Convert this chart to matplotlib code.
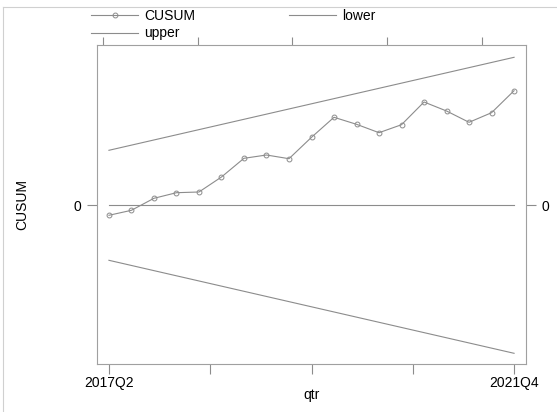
import matplotlib
matplotlib.use("Agg")
import matplotlib.pyplot as plt
from matplotlib.lines import Line2D

plt.rcParams['font.family'] = ['Liberation Sans', 'DejaVu Sans']

quarters = ['2017Q2', '2017Q3', '2017Q4', '2018Q1', '2018Q2', '2018Q3', '2018Q4',
            '2019Q1', '2019Q2', '2019Q3', '2019Q4', '2020Q1', '2020Q2', '2020Q3',
            '2020Q4', '2021Q1', '2021Q2', '2021Q3', '2021Q4']
cusum = [-1.0, -0.5, 0.7, 1.26, 1.33, 2.83, 4.7, 5.03, 4.66, 6.8,
         8.8, 8.1, 7.26, 8.06, 10.33, 9.43, 8.3, 9.26, 11.46]
upper_ends = [5.5, 14.8]
lower_ends = [-5.5, -14.8]

GREY = '#8c8c8c'

x = list(range(len(quarters)))
ends = [x[0], x[-1]]

fig = plt.figure(figsize=(5.57, 4.12), dpi=100)
ax = fig.add_axes([97 / 557, 1 - 364 / 412, 429 / 557, 319 / 412])

l1, = ax.plot(x, cusum, color=GREY, lw=0.8, marker='o', ms=3.5,
              mfc='none', mec=GREY, mew=0.7, label='CUSUM')
l2, = ax.plot(ends, lower_ends, color=GREY, lw=0.8, label='lower')
l3, = ax.plot(ends, upper_ends, color=GREY, lw=0.8, label='upper')
ax.plot(ends, [0, 0], color=GREY, lw=0.8)

ax.set_xlim(-0.53, 18.53)
ax.set_ylim(-15.87, 16.03)

ax.set_xticks([0, 4.5, 9, 13.5, 18])
ax.set_xticklabels([quarters[0], '', '', '', quarters[-1]])
ax.set_yticks([0])
ax.set_yticklabels(['0'])
ax.tick_params(axis='both', colors=GREY, labelcolor='black', labelsize=10,
               length=7, width=0.8)
ax.tick_params(axis='y', right=True, labelright=True, pad=4.5)
ax.tick_params(axis='x', pad=2)

for s in ax.spines.values():
    s.set_color('#a0a0a0')
    s.set_linewidth(0.8)

top = ax.secondary_xaxis('top')
top.set_xticks([-0.27, 3.96, 8.13, 12.36, 16.58])
top.set_xticklabels([])
top.tick_params(colors=GREY, length=6, width=0.8)
top.spines['top'].set_visible(False)

ax.set_xlabel('qtr', fontsize=10, labelpad=-2)
ax.set_ylabel('CUSUM', fontsize=10, labelpad=32)

# column-major fill: CUSUM, upper in first column, lower in second
fig.legend(handles=[l1, l3, l2], loc='upper left', bbox_to_anchor=(91 / 557, 1 - 9 / 412),
           ncol=2, frameon=False, fontsize=10, handlelength=3.4,
           handletextpad=0.4, columnspacing=6.8, labelspacing=0.25,
           borderaxespad=0, borderpad=0)

fig.add_artist(Line2D([3 / 557, 1], [1 - 7 / 412, 1 - 7 / 412], color='#d0d0d0', lw=0.8))
fig.add_artist(Line2D([3 / 557, 3 / 557], [0, 1 - 7 / 412], color='#d0d0d0', lw=0.8))

fig.savefig('out.png', dpi=100)
